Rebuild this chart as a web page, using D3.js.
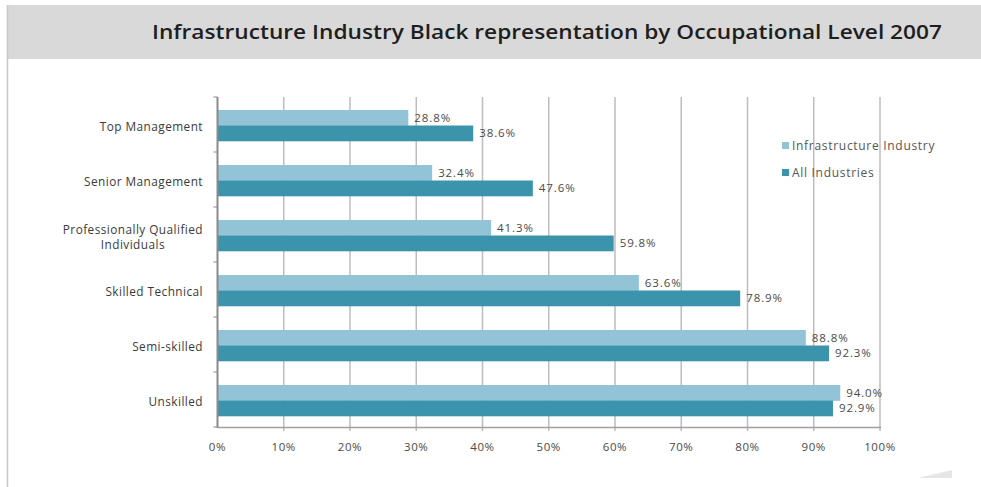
<!DOCTYPE html>
<html><head><meta charset="utf-8">
<script src="https://cdn.jsdelivr.net/npm/d3@7"></script>
<style>
html,body{margin:0;padding:0;background:#fff;}
svg{display:block;}
text{font-family:"Open Sans","DejaVu Sans",sans-serif;}
</style></head>
<body>
<svg id="chart" width="981" height="487"></svg>
<script>
const title = "Infrastructure Industry Black representation by Occupational Level 2007";
const categories = ["Top Management","Senior Management","Professionally Qualified\nIndividuals","Skilled Technical","Semi-skilled","Unskilled"];
const seriesNames = ["Infrastructure Industry","All Industries"];
const infrastructure = [28.8, 32.4, 41.3, 63.6, 88.8, 94.0];
const allIndustries = [38.6, 47.6, 59.8, 78.9, 92.3, 92.9];
const xTicks = [0,10,20,30,40,50,60,70,80,90,100];
const colors = ["#92c3d6", "#3c93ac"];

const svg = d3.select("#chart");

// header band
svg.append("rect").attr("x",7).attr("y",5).attr("width",974).attr("height",54).attr("fill","#d9d9d9");
svg.append("line").attr("x1",7.5).attr("x2",7.5).attr("y1",5).attr("y2",487).attr("stroke","#c8c8c8").attr("stroke-width",1.5);
svg.append("text").attr("x",547).attr("y",39).attr("text-anchor","middle")
  .attr("font-size",19).attr("font-weight",600).attr("fill","#1e1e1e")
  .attr("textLength",790).attr("lengthAdjust","spacingAndGlyphs").text(title);

// small decorative wedge bottom right
svg.append("path").attr("d","M918,478 L952,470 L952,478 Z").attr("fill","#e6e6e6");

const x = d3.scaleLinear().domain([0,100]).range([217.5,880]);
const y = d3.scaleBand().domain(categories).range([97,427]);
const inner = d3.scaleBand().domain(seriesNames).range([13, 44]);

// gridlines
svg.append("g").selectAll("line").data(xTicks.filter(d=>d>0)).join("line")
  .attr("x1",d=>x(d)).attr("x2",d=>x(d)).attr("y1",97).attr("y2",431)
  .attr("stroke","#bdbdbd").attr("stroke-width",1.5);

// bars
const data = categories.map((c,i)=>({c, vals:[infrastructure[i], allIndustries[i]]}));
const g = svg.append("g");
data.forEach(d=>{
  d.vals.forEach((v,j)=>{
    const yy = y(d.c)+inner(seriesNames[j]);
    g.append("rect").attr("x",x(0)).attr("y",yy).attr("width",x(v)-x(0)).attr("height",inner.bandwidth()+0.3)
      .attr("fill",colors[j]);
    g.append("text").attr("x",x(v)+6).attr("y",yy+inner.bandwidth()/2+4)
      .attr("font-size",11.5).attr("letter-spacing",0.9).attr("fill","#4a4a4a").text(v.toFixed(1)+"%");
  });
});

// y axis line & ticks
svg.append("line").attr("x1",x(0)).attr("x2",x(0)).attr("y1",97).attr("y2",428)
  .attr("stroke","#8a8a8a").attr("stroke-width",2);
svg.append("line").attr("x1",x(0)).attr("x2",881).attr("y1",427.5).attr("y2",427.5)
  .attr("stroke","#a0a0a0").attr("stroke-width",1.5);
svg.append("g").selectAll("line").data(d3.range(categories.length+1)).join("line")
  .attr("x1",x(0)-4).attr("x2",x(0)).attr("y1",i=>97+i*y.step()).attr("y2",i=>97+i*y.step())
  .attr("stroke","#8a8a8a").attr("stroke-width",1);

// category labels
const lab = svg.append("g");
const labStyle = t => t.attr("font-size",11.8).attr("letter-spacing",0.45).attr("fill","#3a3a3a");
categories.forEach(c=>{
  const lines = c.split("\n");
  const cy = y(c)+y.bandwidth()/2+2;
  if(lines.length===1){
    labStyle(lab.append("text")).attr("x",203).attr("y",cy+4).attr("text-anchor","end").text(c);
  } else {
    const t1 = labStyle(lab.append("text")).text(lines[0]);
    const w = t1.node().getComputedTextLength();
    const cx = 203 - w/2;
    t1.attr("x",cx).attr("y",cy-3).attr("text-anchor","middle");
    labStyle(lab.append("text")).attr("x",cx).attr("y",cy+12).attr("text-anchor","middle").text(lines[1]);
  }
});

// x tick labels
svg.append("g").selectAll("text").data(xTicks).join("text")
  .attr("x",d=>x(d)).attr("y",451).attr("text-anchor","middle")
  .attr("font-size",11.5).attr("letter-spacing",0.6).attr("fill","#4a4a4a").text(d=>d+"%");

// legend
const leg = svg.append("g");
seriesNames.forEach((s,i)=>{
  const ly = 146 + i*27;
  leg.append("rect").attr("x",782).attr("y",ly-4).attr("width",7).attr("height",7).attr("fill",colors[i]);
  leg.append("text").attr("x",792).attr("y",ly+4).attr("font-size",12).attr("letter-spacing",0.7).attr("fill","#555").text(s);
});
</script>
</body></html>
